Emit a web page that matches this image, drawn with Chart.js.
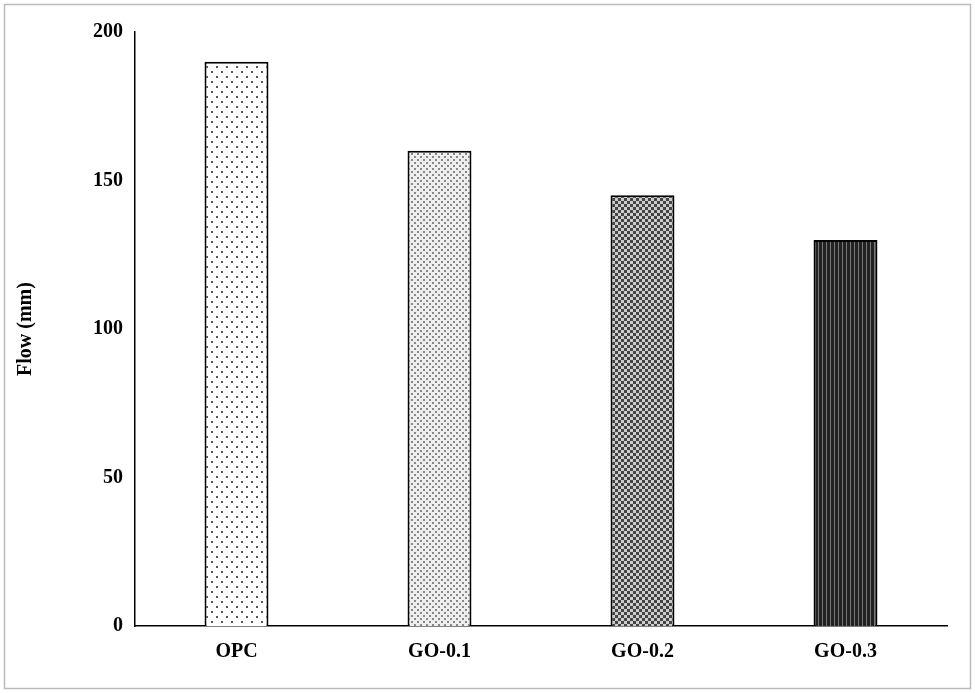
<!DOCTYPE html>
<html><head><meta charset="utf-8">
<script src="https://cdn.jsdelivr.net/npm/chart.js@4"></script>
<style>html,body{margin:0;padding:0;background:#fff}#w{width:975px;height:693px}</style>
</head><body><div id="w"><canvas id="c"></canvas></div>
<script>
const categories = ["OPC", "GO-0.1", "GO-0.2", "GO-0.3"];
const flowValues = [190, 160, 145, 130];
const yTicks = [0, 50, 100, 150, 200];

function pat(kind){
  const c=document.createElement('canvas');
  const ctx=c.getContext('2d');
  if(kind===0){c.width=c.height=10;ctx.fillStyle='#fff';ctx.fillRect(0,0,10,10);ctx.fillStyle='#555';
    ctx.fillRect(1,1,2,2);ctx.fillRect(6,6,2,2);}
  else if(kind===1){c.width=c.height=6;ctx.fillStyle='#eee';ctx.fillRect(0,0,6,6);ctx.fillStyle='#888';
    ctx.fillRect(0,0,2,2);ctx.fillRect(3,3,2,2);}
  else if(kind===2){c.width=c.height=6;ctx.fillStyle='#ccc';ctx.fillRect(0,0,6,6);ctx.fillStyle='#444';
    ctx.fillRect(0,0,3,3);ctx.fillRect(3,3,3,3);}
  else {c.width=4;c.height=4;ctx.fillStyle='#222';ctx.fillRect(0,0,4,4);ctx.fillStyle='#777';ctx.fillRect(2,0,1,4);}
  return ctx.createPattern(c,'repeat');
}
const frame={id:'frame',afterDraw(ch){const x=ch.ctx;x.save();x.strokeStyle='#bbb';x.lineWidth=1.5;x.strokeRect(4.5,4.5,966,684);x.restore();}};
const font={family:'"Liberation Serif", "Times New Roman", serif',size:20,weight:'bold'};
new Chart(document.getElementById('c'),{
  type:'bar',
  data:{labels:categories,datasets:[{data:flowValues,backgroundColor:[0,1,2,3].map(pat),
    borderColor:'#000',borderWidth:2,barPercentage:0.315,categoryPercentage:1}]},
  options:{responsive:true,maintainAspectRatio:false,animation:false,
    layout:{padding:{left:10,right:28,top:32,bottom:10}},
    plugins:{legend:{display:false},tooltip:{enabled:false}},
    scales:{
      x:{grid:{display:false,drawTicks:false},border:{color:'#000',width:1.5},
        ticks:{color:'#000',font:font,padding:14},afterFit(s){s.height=57;}},
      y:{min:0,max:200,grid:{display:false,drawTicks:false},border:{color:'#000',width:1.5},
        afterBuildTicks(s){s.ticks=yTicks.map(v=>({value:v}));},
        ticks:{color:'#000',font:font,padding:12},
        title:{display:true,text:'Flow (mm)',color:'#000',font:font},
        afterFit(s){s.width=125;}}
    }},
  plugins:[frame]
});
</script></body></html>
